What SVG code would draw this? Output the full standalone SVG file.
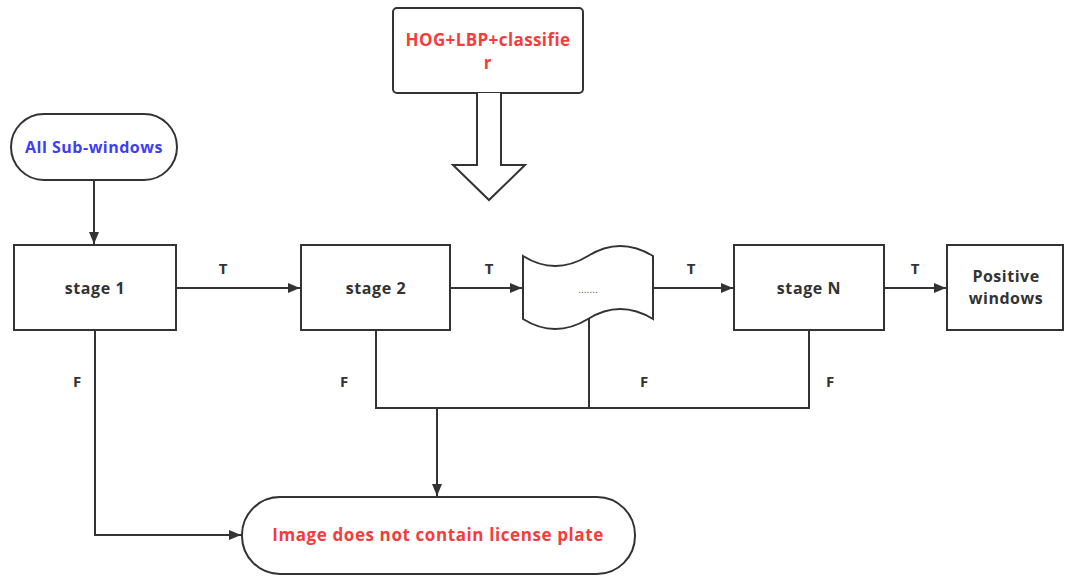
<svg xmlns="http://www.w3.org/2000/svg" width="1065" height="577" viewBox="0 0 1065 577">
<defs>
<style>
.n{fill:#fff;stroke:#333;stroke-width:2}
.c{fill:none;stroke:#333;stroke-width:2}
.t{font-family:"Open Sans","Noto Sans","Liberation Sans",sans-serif;font-weight:bold;font-size:16px;letter-spacing:0.6px;fill:#333;text-anchor:middle}
.r{fill:#f53c3c}
.b{fill:#3d3dfa}
.l{font-family:"Open Sans","Noto Sans","Liberation Sans",sans-serif;font-weight:bold;font-size:15px;fill:#333;text-anchor:middle}
</style>
<marker id="ah" viewBox="0 0 12 10" refX="12" refY="5" markerWidth="12" markerHeight="10" markerUnits="userSpaceOnUse" orient="auto">
<path d="M0,0 L12,5 L0,10 Z" fill="#333"/>
</marker>
</defs>
<rect width="1065" height="577" fill="#fff"/>
<g id="connectors">
<path class="c" d="M94,180 V244" marker-end="url(#ah)"/>
<path class="c" d="M176,288 H300" marker-end="url(#ah)"/>
<path class="c" d="M450,288 H522" marker-end="url(#ah)"/>
<path class="c" d="M653,288 H733" marker-end="url(#ah)"/>
<path class="c" d="M884,288 H946" marker-end="url(#ah)"/>
<path class="c" d="M95,330 V535 H241" marker-end="url(#ah)"/>
<path class="c" d="M376,330 V408 H809 V330"/>
<path class="c" d="M589,314 V408"/>
<path class="c" d="M437,408 V496" marker-end="url(#ah)"/>
<text class="l" x="223" y="274">T</text>
<text class="l" x="489" y="274">T</text>
<text class="l" x="691" y="274">T</text>
<text class="l" x="915" y="274">T</text>
<text class="l" x="77" y="387">F</text>
<text class="l" x="344" y="387">F</text>
<text class="l" x="644" y="387">F</text>
<text class="l" x="830" y="387">F</text>
</g>
<g id="classifier">
<rect class="n" x="393" y="8" width="190" height="85" rx="4"/>
<text class="t r" x="488" y="46" style="font-size:17px;letter-spacing:0.4px">HOG+LBP+classifie</text>
<text class="t r" x="488" y="69" style="font-size:17px">r</text>
</g>
<g id="blockarrow">
<path class="n" d="M477,93 V165 H453 L489,200 L525,165 H501 V93"/>
</g>
<g id="start">
<rect class="n" x="11" y="114" width="166" height="66" rx="33"/>
<text class="t b" x="94" y="153" style="letter-spacing:0.5px">All Sub-windows</text>
</g>
<g id="stage1">
<rect class="n" x="14" y="245" width="162" height="85"/>
<text class="t" x="95" y="294">stage 1</text>
</g>
<g id="stage2">
<rect class="n" x="301" y="245" width="149" height="85"/>
<text class="t" x="376" y="294">stage 2</text>
</g>
<g id="tape">
<path class="n" d="M523,256 Q555,276 588,256 Q620,236 653,256 V319 Q620,299 588,319 Q555,339 523,319 Z"/>
<text x="588" y="293" font-family="'Liberation Sans',sans-serif" font-size="10" fill="#555" text-anchor="middle">.......</text>
</g>
<g id="stageN">
<rect class="n" x="734" y="245" width="150" height="85"/>
<text class="t" x="809" y="294">stage N</text>
</g>
<g id="positive">
<rect class="n" x="947" y="245" width="116" height="85"/>
<text class="t" x="1006" y="282" style="letter-spacing:0.5px">Positive</text>
<text class="t" x="1006" y="304" style="letter-spacing:0.5px">windows</text>
</g>
<g id="negative">
<rect class="n" x="242" y="497" width="393" height="77" rx="38"/>
<text class="t r" x="438" y="541" style="font-size:17px;letter-spacing:0.6px">Image does not contain license plate</text>
</g>
</svg>
